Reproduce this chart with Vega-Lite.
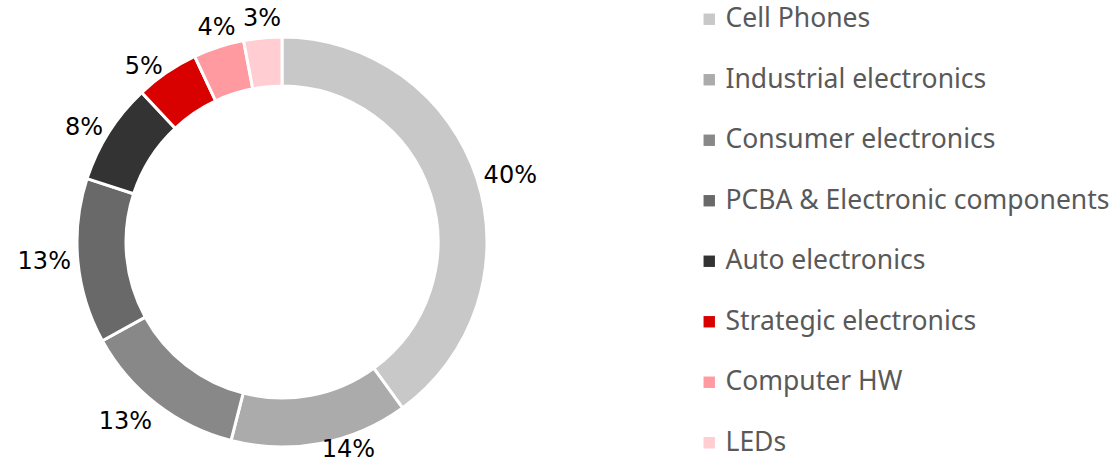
{
  "$schema": "https://vega.github.io/schema/vega-lite/v6.json",
  "width": 564,
  "height": 440,
  "autosize": {"type": "none"},
  "padding": {"left": 0, "top": 22, "right": 552, "bottom": 0},
  "background": "white",
  "data": {
    "values": [
      {"segment": "Cell Phones", "share": 0.40, "rank": 1},
      {"segment": "Industrial electronics", "share": 0.14, "rank": 2},
      {"segment": "Consumer electronics", "share": 0.13, "rank": 3},
      {"segment": "PCBA & Electronic components", "share": 0.13, "rank": 4},
      {"segment": "Auto electronics", "share": 0.08, "rank": 5},
      {"segment": "Strategic electronics", "share": 0.05, "rank": 6},
      {"segment": "Computer HW", "share": 0.04, "rank": 7},
      {"segment": "LEDs", "share": 0.03, "rank": 8}
    ]
  },
  "encoding": {
    "theta": {"field": "share", "type": "quantitative", "stack": true},
    "order": {"field": "rank", "type": "quantitative"}
  },
  "layer": [
    {
      "mark": {"type": "arc", "outerRadius": 205, "innerRadius": 156, "stroke": "white", "strokeWidth": 3},
      "encoding": {
        "color": {
          "field": "segment",
          "type": "nominal",
          "scale": {
            "domain": ["Cell Phones", "Industrial electronics", "Consumer electronics", "PCBA & Electronic components", "Auto electronics", "Strategic electronics", "Computer HW", "LEDs"],
            "range": ["#C8C8C8", "#ABABAB", "#888888", "#696969", "#333333", "#D90000", "#FF9AA0", "#FFCDD2"]
          },
          "legend": {
            "title": null,
            "orient": "none",
            "legendX": 696,
            "legendY": -16,
            "symbolType": "square",
            "symbolSize": 130,
            "symbolStrokeWidth": 0,
            "labelFont": "Noto Sans",
            "labelFontSize": 26.5,
            "labelColor": "#595959",
            "labelOffset": 3,
            "rowPadding": 33.5,
            "padding": 0,
            "labelLimit": 500
          }
        }
      }
    },
    {
      "mark": {
        "type": "text",
        "radius": 212,
        "font": "DejaVu Sans",
        "fontSize": 24,
        "color": "#000000",
        "align": {"expr": "sin(PI*(datum.share_start+datum.share_end)) > 0.15 ? 'left' : (sin(PI*(datum.share_start+datum.share_end)) < -0.35 ? 'right' : 'center')"},
        "baseline": {"expr": "cos(PI*(datum.share_start+datum.share_end)) > 0.9 ? 'bottom' : ((cos(PI*(datum.share_start+datum.share_end)) < -0.5 && cos(PI*(datum.share_start+datum.share_end)) > -0.95) ? 'top' : 'middle')"}
      },
      "encoding": {
        "text": {"field": "share", "type": "quantitative", "format": ".0%"}
      }
    }
  ],
  "config": {
    "view": {"stroke": null}
  }
}
